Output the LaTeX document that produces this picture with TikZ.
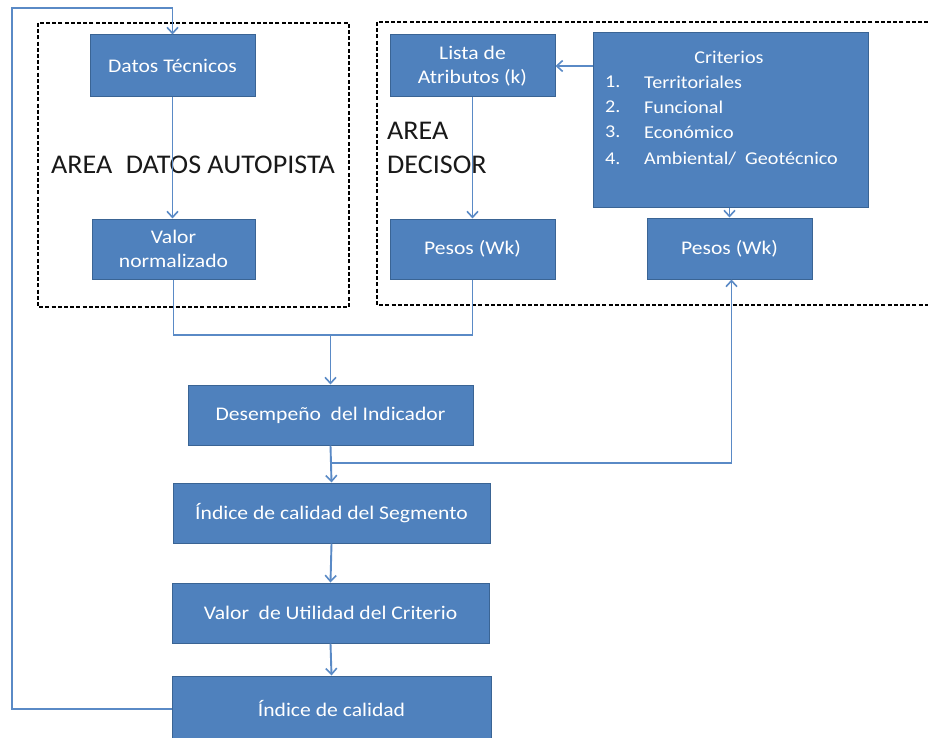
\documentclass[tikz,border=0pt]{standalone}
\usepackage{fontspec}
\setmainfont{Carlito}[FakeStretch=1.12]
\newfontfamily\areafont{Carlito}[FakeStretch=1.04]
\usetikzlibrary{arrows.meta}
\definecolor{boxfill}{HTML}{4F81BD}
\definecolor{boxline}{HTML}{3A6494}
\definecolor{linkcol}{HTML}{5A8AC6}
\tikzset{
  x=1pt, y=-1pt,
  block/.style={draw=boxline, line width=1pt, fill=boxfill, text=white,
    inner sep=0pt, align=center, font=\fontsize{19.3}{24}\selectfont},
  link/.style={draw=linkcol, line width=1.9pt},
  linkarrow/.style={link, -{Straight Barb[length=6pt,width=11pt,line width=1.6pt]}},
  areabox/.style={draw=black, line width=1.3pt, dash pattern=on 4pt off 2.2pt},
  arealabel/.style={font=\areafont\fontsize{27}{34}\selectfont, text=black!90,
    inner sep=0pt, anchor=west, align=left},
  listtext/.style={font=\fontsize{18}{22}\selectfont, text=white, inner sep=0pt, anchor=west}
}
\begin{document}
\begin{tikzpicture}
\useasboundingbox (0,0) rectangle (928,738);
\clip (0,0) rectangle (928,738);
\fill[white] (0,0) rectangle (928,738);

% dashed areas
\draw[areabox] (38,23) rectangle (349,307);
\draw[areabox] (377,22) rectangle (940,305);

% area labels
\node[arealabel] (lblAutopista) at (51,165) {AREA\enspace DATOS AUTOPISTA};
\node[arealabel] (lblDecisor) at (387,148) {AREA\\DECISOR};

% blocks
\node[block, minimum width=165, minimum height=62] (datos) at (172.5,66) {Datos T\'ecnicos};
\node[block, minimum width=163, minimum height=60] (valor) at (173.5,249) {Valor\\normalizado};
\node[block, minimum width=165, minimum height=62] (lista) at (472.5,66) {Lista de\\Atributos (k)};
\node[block, minimum width=275, minimum height=174] (crit) at (730.5,120) {};
\node[block, minimum width=165, minimum height=60] (pesosA) at (472.5,249) {Pesos (Wk)};
\node[block, minimum width=165, minimum height=61] (pesosB) at (729.5,248.5) {Pesos (Wk)};
\node[block, minimum width=285, minimum height=60] (desemp) at (330.5,415) {Desempe\~no\enspace del Indicador};
\node[block, minimum width=317, minimum height=60] (segm) at (331.5,513) {\'Indice de calidad del Segmento};
\node[block, minimum width=317, minimum height=60] (util) at (330.5,613) {Valor\enspace de Utilidad del Criterio};
\node[block, minimum width=319, minimum height=66] (indice) at (331.5,709) {\'Indice de calidad};

% criteria list
\node[listtext, anchor=center] (critT) at (729,57) {Criterios};
\node[listtext] (n1) at (605,82) {1.};
\node[listtext] (n2) at (605,107) {2.};
\node[listtext] (n3) at (605,132) {3.};
\node[listtext] (n4) at (605,159) {4.};
\node[listtext] (c1) at (644,82) {Territoriales};
\node[listtext] (c2) at (644,107) {Funcional};
\node[listtext] (c3) at (644,132) {Econ\'omico};
\node[listtext] (c4) at (644,159) {Ambiental/\enspace Geot\'ecnico};

% junction points
\coordinate (merge) at (330.5,335);
\coordinate (split) at (330.5,463);
\coordinate (fbCorner) at (12,8);

% connectors
\draw[linkarrow] (datos.south) -- (datos.south |- valor.north);
\draw[linkarrow] (lista.south) -- (pesosA.north);
\draw[linkarrow] (crit.west |- lista.east) -- (lista.east);
\draw[linkarrow] (crit.south -| pesosB.north) -- (pesosB.north);
\draw[link] (valor.south) |- (merge);
\draw[link] (pesosA.south) |- (merge);
\draw[linkarrow] (merge) -- (desemp.north);
\draw[linkarrow] (desemp.south) -- (segm.north);
\draw[linkarrow] (split) -| ([xshift=2pt]pesosB.south);
\draw[linkarrow] (segm.south) -- (util.north);
\draw[linkarrow] (util.south) -- (indice.north);
\draw[linkarrow] (indice.west) -| (fbCorner) -| (datos.north);
\end{tikzpicture}
\end{document}
